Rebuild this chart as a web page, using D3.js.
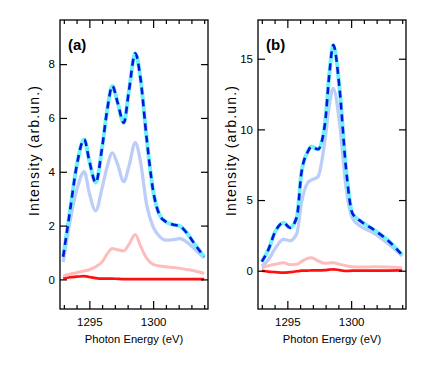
<!DOCTYPE html>
<html>
<head>
<meta charset="utf-8">
<script src="https://cdn.jsdelivr.net/npm/d3@7"></script>
<style>
	body { margin: 0; background: #fff; }
	text { font-family: "Liberation Sans", Arial, sans-serif; }
</style>
</head>
<body>
<div id="graph"></div>
<script>
// panel (a) values
var energyA = [1292.95, 1293.5, 1294.0, 1294.6, 1295.0, 1295.5, 1296.0, 1296.4, 1296.8, 1297.2, 1297.7, 1298.1, 1298.6, 1299.0, 1299.5, 1300.0, 1300.5, 1301.0, 1301.6, 1302.1, 1302.6, 1303.2, 1304.0];
var totalA = [0.84, 2.6, 4.2, 5.2, 4.4, 3.6, 4.9, 6.3, 7.19, 6.6, 5.82, 7.0, 8.4, 7.5, 5.2, 3.3, 2.4, 2.14, 2.03, 1.98, 1.75, 1.35, 0.84];
var blueA = [0.65, 2.2, 3.3, 4.0, 3.2, 2.55, 3.4, 4.2, 4.7, 4.3, 3.63, 4.2, 5.08, 4.4, 2.75, 1.95, 1.6, 1.46, 1.48, 1.52, 1.4, 1.15, 0.8];
var pinkA = [0.12, 0.2, 0.25, 0.32, 0.36, 0.47, 0.65, 0.95, 1.15, 1.1, 1.06, 1.3, 1.67, 1.25, 0.78, 0.56, 0.5, 0.47, 0.44, 0.41, 0.37, 0.32, 0.22];
var redA = [0.04, 0.08, 0.1, 0.12, 0.09, 0.05, 0.03, 0.03, 0.03, 0.02, 0.01, 0.01, 0.01, 0.01, 0.01, 0.01, 0.01, 0.01, 0.01, 0.01, 0.01, 0.01, 0.01];

// panel (b) values
var energyB = [1293.0, 1293.5, 1294.05, 1294.7, 1295.2, 1295.75, 1296.1, 1296.6, 1296.9, 1297.4, 1297.95, 1298.3, 1298.6, 1299.1, 1299.6, 1300.1, 1300.8, 1301.8, 1302.85, 1304.0];
var totalB = [0.64, 1.46, 2.76, 3.4, 3.04, 3.82, 6.9, 8.42, 8.78, 8.59, 10.4, 14.0, 15.97, 12.8, 7.2, 4.06, 3.47, 2.88, 2.17, 1.11];
var blueB = [0.33, 0.76, 1.58, 2.22, 2.12, 2.65, 4.77, 6.23, 6.42, 6.65, 9.25, 11.8, 12.9, 10.4, 5.9, 3.71, 3.11, 2.65, 1.94, 1.04];
var pinkB = [0.21, 0.35, 0.45, 0.57, 0.42, 0.45, 0.64, 0.88, 0.92, 0.7, 0.52, 0.55, 0.57, 0.45, 0.35, 0.28, 0.26, 0.28, 0.26, 0.21];
var redB = [0, -0.06, -0.1, -0.14, -0.1, -0.04, 0, 0.01, 0.02, 0.02, 0.04, 0.08, 0.1, 0.04, -0.02, 0, 0, 0, 0.01, 0.02];

var xDomain = [1292.7, 1304.3];
var xMajorTicks = [1295, 1300];
var xMinorTicks = d3.range(1293, 1305, 1);
var yTicksA = [0, 2, 4, 6, 8];
var yTicksB = [0, 5, 10, 15];

var svg = d3.select('div#graph')
	.append('svg')
	.attr('width', 436)
	.attr('height', 375);

function drawPanel(p){
	var x = d3.scaleLinear().domain(xDomain).range([p.left, p.right]);
	var y = d3.scaleLinear().domain(p.yDomain).range([309, 20]);

	var g = svg.append("g").attr("class", "panel");

	var line = d3.line()
		.curve(d3.curveMonotoneX)
		.x(function(d) { return x(d[0]); })
		.y(function(d) { return y(d[1]); });

	function series(vals){
		return p.energy.map(function(e, i){ return [e, vals[i]]; });
	}

	g.append("path").datum(series(p.red))
		.attr("fill", "none").attr("stroke", "#ff1010").attr("stroke-width", 2.7)
		.attr("d", line);
	g.append("path").datum(series(p.pink))
		.attr("fill", "none").attr("stroke", "#ffbcbc").attr("stroke-width", 3)
		.attr("d", line);
	g.append("path").datum(series(p.blue))
		.attr("fill", "none").attr("stroke", "#bccdf8").attr("stroke-width", 3.3)
		.attr("d", line);
	g.append("path").datum(series(p.total))
		.attr("fill", "none").attr("stroke", "#6ef2fa").attr("stroke-width", 4)
		.attr("d", line);
	g.append("path").datum(series(p.total))
		.attr("fill", "none").attr("stroke", "#0a14e0").attr("stroke-width", 2.6)
		.attr("stroke-dasharray", "7,5")
		.attr("d", line);

	// axes, ticks pointing inward
	var minor = xMinorTicks.filter(function(t){ return t % 5; });
	g.append("g").attr("transform", "translate(0,309)")
		.call(d3.axisBottom(x).tickValues(xMajorTicks).tickSize(-8).tickPadding(9).tickFormat(d3.format("d")));
	g.append("g").attr("transform", "translate(0,309)")
		.call(d3.axisBottom(x).tickValues(minor).tickSize(-4).tickFormat(""));
	g.append("g").attr("transform", "translate(0,20)")
		.call(d3.axisTop(x).tickValues(xMajorTicks).tickSize(-8).tickFormat(""));
	g.append("g").attr("transform", "translate(0,20)")
		.call(d3.axisTop(x).tickValues(minor).tickSize(-4).tickFormat(""));
	g.append("g").attr("transform", "translate(" + p.left + ",0)")
		.call(d3.axisLeft(y).tickValues(p.yTicks).tickSize(-7).tickPadding(5));
	g.append("g").attr("transform", "translate(" + p.right + ",0)")
		.call(d3.axisRight(y).tickValues(p.yTicks).tickSize(-7).tickFormat(""));

	g.selectAll(".domain").remove();
	g.selectAll(".tick line").attr("stroke", "#000").attr("stroke-width", 1.2);
	g.selectAll(".tick text").attr("font-size", 11.5).attr("fill", "#000")
		.style("font-family", "'Liberation Sans', Arial, sans-serif");

	g.append("rect")
		.attr("x", p.left).attr("y", 20)
		.attr("width", p.right - p.left).attr("height", 289)
		.attr("fill", "none").attr("stroke", "#000").attr("stroke-width", 1.3);

	g.append("text")
		.attr("x", p.left + 8).attr("y", 50)
		.attr("font-size", 15).attr("font-weight", "bold")
		.text(p.label);

	g.append("text")
		.attr("transform", "translate(" + p.titleX + ",151) rotate(-90)")
		.attr("text-anchor", "middle")
		.attr("font-size", 14)
		.attr("textLength", 130)
		.attr("lengthAdjust", "spacing")
		.text("Intensity (arb.un.)");

	g.append("text")
		.attr("x", (p.left + p.right) / 2).attr("y", 343)
		.attr("text-anchor", "middle")
		.attr("font-size", 11.2)
		.text("Photon Energy (eV)");
}

drawPanel({label: "(a)", left: 60, right: 208, yDomain: [-1.1, 9.64], yTicks: yTicksA, titleX: 39,
	energy: energyA, total: totalA, blue: blueA, pink: pinkA, red: redA});
drawPanel({label: "(b)", left: 258, right: 406, yDomain: [-2.71, 17.74], yTicks: yTicksB, titleX: 236,
	energy: energyB, total: totalB, blue: blueB, pink: pinkB, red: redB});
</script>
</body>
</html>
